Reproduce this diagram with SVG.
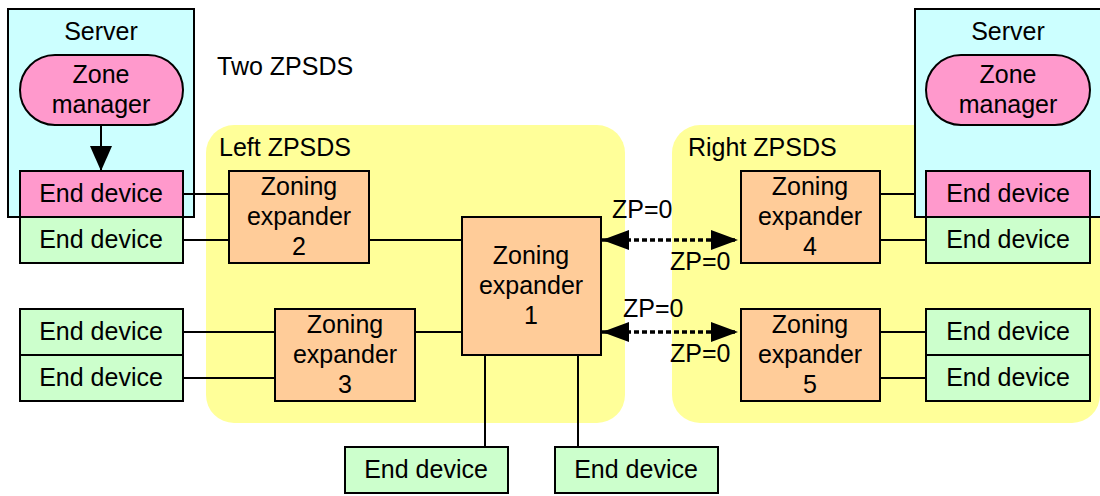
<svg xmlns="http://www.w3.org/2000/svg" width="1100" height="496" viewBox="0 0 1100 496">
  <style>
    text { font-family: "Liberation Sans", Arial, sans-serif; font-size: 25px; fill: #000; }
    .c { text-anchor: middle; }
    .region { fill: #ffff99; stroke: none; }
    .server { fill: #ccffff; stroke: #000; stroke-width: 2; }
    .mgr { fill: #ff99cc; stroke: #000; stroke-width: 2; }
    .dev { fill: #ccffcc; stroke: #000; stroke-width: 2; }
    .devp { fill: #ff99cc; stroke: #000; stroke-width: 2; }
    .exp { fill: #ffcc99; stroke: #000; stroke-width: 2; }
    .link { stroke: #000; stroke-width: 2; fill: none; }
    .zp { stroke: #000; stroke-width: 3.5; stroke-dasharray: 5 3; fill: none; }
  </style>
  <defs>
    <marker id="head" viewBox="0 0 25 22" refX="25" refY="11" markerWidth="25" markerHeight="22" markerUnits="userSpaceOnUse" orient="auto">
      <path d="M0,0 L25,11 L0,22 Z" fill="#000"/>
    </marker>
    <marker id="zphead" viewBox="0 0 27 20" refX="27" refY="10" markerWidth="27" markerHeight="20" markerUnits="userSpaceOnUse" orient="auto-start-reverse">
      <path d="M0,0 L27,10 L0,20 Z" fill="#000"/>
    </marker>
  </defs>

  <!-- ZPSDS domains -->
  <g id="left-zpsds">
    <rect class="region" x="206" y="125" width="419" height="298" rx="28"/>
    <text x="219" y="156">Left ZPSDS</text>
  </g>
  <g id="right-zpsds">
    <rect class="region" x="672" y="125" width="428" height="298" rx="28"/>
    <text x="688" y="156">Right ZPSDS</text>
  </g>
  <text x="217" y="75">Two ZPSDS</text>

  <!-- left server -->
  <g id="server-left">
    <rect class="server" x="8" y="9" width="186" height="208"/>
    <text class="c" x="101" y="40">Server</text>
  </g>

  <!-- connectors -->
  <g id="connectors">
    <line class="link" x1="183" y1="194" x2="229" y2="194"/>
    <line class="link" x1="183" y1="240" x2="229" y2="240"/>
    <line class="link" x1="369" y1="240" x2="462" y2="240"/>
    <line class="link" x1="183" y1="332" x2="275" y2="332"/>
    <line class="link" x1="183" y1="378" x2="275" y2="378"/>
    <line class="link" x1="415" y1="332" x2="462" y2="332"/>
    <line class="link" x1="485" y1="355" x2="485" y2="447"/>
    <line class="link" x1="578" y1="355" x2="578" y2="447"/>
    <line class="link" x1="880" y1="194" x2="915" y2="194"/>
    <line class="link" x1="880" y1="240" x2="926" y2="240"/>
    <line class="link" x1="880" y1="332" x2="926" y2="332"/>
    <line class="link" x1="880" y1="378" x2="926" y2="378"/>
    <line class="link" x1="101" y1="125" x2="101" y2="171" marker-end="url(#head)"/>
    <line class="link" x1="1008" y1="125" x2="1008" y2="171" marker-end="url(#head)"/>
    <line class="zp" x1="602" y1="240" x2="738" y2="240" marker-start="url(#zphead)" marker-end="url(#zphead)"/>
    <line class="zp" x1="602" y1="332" x2="738" y2="332" marker-start="url(#zphead)" marker-end="url(#zphead)"/>
    <text x="612" y="218">ZP=0</text>
    <text x="670" y="270">ZP=0</text>
    <text x="623" y="317">ZP=0</text>
    <text x="670" y="362">ZP=0</text>
  </g>

  <!-- right server -->
  <g id="server-right">
    <rect class="server" x="915" y="9" width="200" height="208"/>
    <text class="c" x="1008" y="40">Server</text>
  </g>

  <g id="zone-manager-left">
    <rect class="mgr" x="20" y="55" width="163" height="70" rx="35"/>
    <text class="c" x="101" y="83">Zone</text>
    <text class="c" x="101" y="113">manager</text>
  </g>
  <g id="zone-manager-right">
    <rect class="mgr" x="926" y="55" width="164" height="70" rx="35"/>
    <text class="c" x="1008" y="83">Zone</text>
    <text class="c" x="1008" y="113">manager</text>
  </g>

  <!-- end devices -->
  <g id="dev-l1"><rect class="devp" x="20" y="171" width="163" height="46"/><text class="c" x="101" y="202">End device</text></g>
  <g id="dev-l2"><rect class="dev" x="20" y="217" width="163" height="46"/><text class="c" x="101" y="248">End device</text></g>
  <g id="dev-l3"><rect class="dev" x="20" y="309" width="163" height="46"/><text class="c" x="101" y="340">End device</text></g>
  <g id="dev-l4"><rect class="dev" x="20" y="355" width="163" height="46"/><text class="c" x="101" y="386">End device</text></g>
  <g id="dev-b1"><rect class="dev" x="345" y="447" width="163" height="46"/><text class="c" x="426" y="478">End device</text></g>
  <g id="dev-b2"><rect class="dev" x="555" y="447" width="163" height="46"/><text class="c" x="636" y="478">End device</text></g>
  <g id="dev-r1"><rect class="devp" x="926" y="171" width="164" height="46"/><text class="c" x="1008" y="202">End device</text></g>
  <g id="dev-r2"><rect class="dev" x="926" y="217" width="164" height="46"/><text class="c" x="1008" y="248">End device</text></g>
  <g id="dev-r3"><rect class="dev" x="926" y="309" width="164" height="46"/><text class="c" x="1008" y="340">End device</text></g>
  <g id="dev-r4"><rect class="dev" x="926" y="355" width="164" height="46"/><text class="c" x="1008" y="386">End device</text></g>

  <!-- zoning expanders -->
  <g id="ze1">
    <rect class="exp" x="462" y="217" width="139" height="138"/>
    <text class="c" x="531" y="264">Zoning</text>
    <text class="c" x="531" y="294">expander</text>
    <text class="c" x="531" y="324">1</text>
  </g>
  <g id="ze2">
    <rect class="exp" x="229" y="171" width="140" height="92"/>
    <text class="c" x="299" y="195">Zoning</text>
    <text class="c" x="299" y="225">expander</text>
    <text class="c" x="299" y="255">2</text>
  </g>
  <g id="ze3">
    <rect class="exp" x="275" y="309" width="140" height="92"/>
    <text class="c" x="345" y="333">Zoning</text>
    <text class="c" x="345" y="363">expander</text>
    <text class="c" x="345" y="393">3</text>
  </g>
  <g id="ze4">
    <rect class="exp" x="741" y="171" width="139" height="92"/>
    <text class="c" x="810" y="195">Zoning</text>
    <text class="c" x="810" y="225">expander</text>
    <text class="c" x="810" y="255">4</text>
  </g>
  <g id="ze5">
    <rect class="exp" x="741" y="309" width="139" height="92"/>
    <text class="c" x="810" y="333">Zoning</text>
    <text class="c" x="810" y="363">expander</text>
    <text class="c" x="810" y="393">5</text>
  </g>
</svg>
